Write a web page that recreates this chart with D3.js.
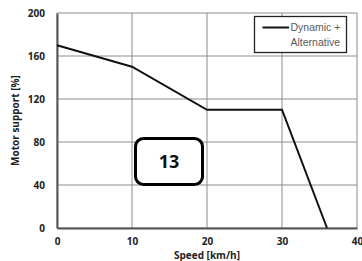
<!DOCTYPE html>
<html>
<head>
<meta charset="utf-8">
<script src="https://cdn.jsdelivr.net/npm/d3@7"></script>
<style>
  body { margin: 0; background: #fff; }
  svg { display: block; }
  .tick text { font-family: "Open Sans", sans-serif; font-weight: bold; font-size: 10px; fill: #222; }
</style>
</head>
<body>
<div id="chart"></div>
<script>
// data
const speed = [0, 10, 20, 30, 36];
const support = [170, 150, 110, 110, 0];
const xTicks = [0, 10, 20, 30, 40];
const yTicks = [0, 40, 80, 120, 160, 200];
const seriesName = ["Dynamic +", "Alternative"];
const badge = "13";

const W = 362, H = 261;
const margin = { left: 57, right: 5, top: 13, bottom: 33 };
const innerW = W - margin.left - margin.right;
const innerH = H - margin.top - margin.bottom;

const svg = d3.select("#chart").append("svg")
  .attr("width", W).attr("height", H);

const x = d3.scaleLinear().domain([0, 40]).range([margin.left, margin.left + innerW]);
const y = d3.scaleLinear().domain([0, 200]).range([margin.top + innerH, margin.top]);

// grid
svg.append("g").selectAll("line.vg")
  .data(xTicks).enter().append("line")
  .attr("x1", d => x(d)).attr("x2", d => x(d))
  .attr("y1", y(0)).attr("y2", y(200))
  .attr("stroke", "#8c8c8c").attr("stroke-width", 1);
svg.append("g").selectAll("line.hg")
  .data(yTicks).enter().append("line")
  .attr("x1", x(0)).attr("x2", x(40))
  .attr("y1", d => y(d)).attr("y2", d => y(d))
  .attr("stroke", "#8c8c8c").attr("stroke-width", 1);

// axes
const xAxis = svg.append("g")
  .attr("transform", `translate(0,${y(0)})`)
  .call(d3.axisBottom(x).tickValues(xTicks).tickSize(0).tickPadding(10));
const yAxis = svg.append("g")
  .attr("transform", `translate(${x(0)},0)`)
  .call(d3.axisLeft(y).tickValues(yTicks).tickSize(0).tickPadding(12));
xAxis.select(".domain").attr("stroke", "#555").attr("stroke-width", 2);
yAxis.select(".domain").attr("stroke", "#555").attr("stroke-width", 2);

// axis titles
svg.append("text")
  .attr("x", x(20)).attr("y", 259)
  .attr("text-anchor", "middle")
  .style("font-family", "Open Sans, sans-serif").style("font-weight", "bold")
  .style("font-size", "10px").attr("fill", "#222")
  .text("Speed [km/h]");
svg.append("text")
  .attr("transform", `translate(19,${y(100)}) rotate(-90)`)
  .attr("text-anchor", "middle")
  .style("font-family", "Open Sans, sans-serif").style("font-weight", "bold")
  .style("font-size", "10px").attr("fill", "#222")
  .text("Motor support [%]");

// line
const line = d3.line().x((d, i) => x(speed[i])).y(d => y(d));
svg.append("path")
  .datum(support)
  .attr("d", line)
  .attr("fill", "none")
  .attr("stroke", "#111")
  .attr("stroke-width", 2);

// legend
const lg = svg.append("g");
lg.append("rect")
  .attr("x", 254.5).attr("y", 16.5).attr("width", 92).attr("height", 36)
  .attr("fill", "#fff").attr("stroke", "#222").attr("stroke-width", 1.3);
lg.append("line")
  .attr("x1", 262.5).attr("x2", 289).attr("y1", 27.5).attr("y2", 27.5)
  .attr("stroke", "#111").attr("stroke-width", 2);
lg.selectAll("text").data(seriesName).enter().append("text")
  .attr("x", 290.5).attr("y", (d, i) => 31 + i * 14.5)
  .style("font-family", "Liberation Sans Narrow, Liberation Sans, sans-serif").style("font-size", "10.5px")
  .attr("fill", "#595959")
  .text(d => d);

// badge
svg.append("rect")
  .attr("x", 135.5).attr("y", 138.5).attr("width", 67).attr("height", 46).attr("rx", 8)
  .attr("fill", "#fff").attr("stroke", "#000").attr("stroke-width", 3);
svg.append("text")
  .attr("x", 169).attr("y", 168)
  .attr("text-anchor", "middle")
  .style("font-family", "Open Sans, sans-serif").style("font-weight", "bold")
  .style("font-size", "18px").attr("fill", "#111")
  .text(badge);
</script>
</body>
</html>
